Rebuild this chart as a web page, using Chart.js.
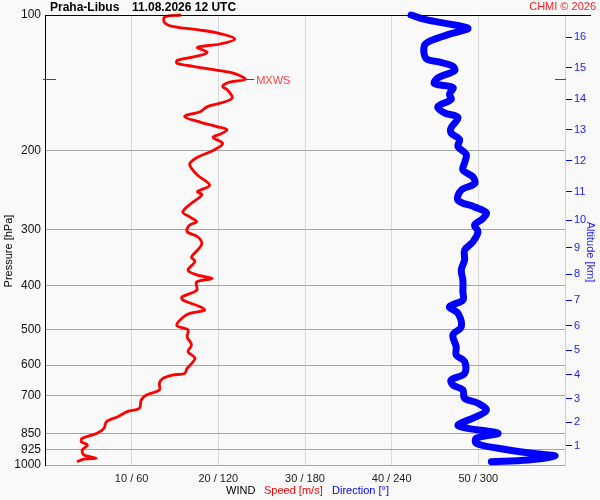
<!DOCTYPE html>
<html>
<head>
<meta charset="utf-8">
<script src="https://cdn.jsdelivr.net/npm/chart.js@4/dist/chart.umd.min.js"></script>
<style>
  body { margin: 0; background: #f9f9f9; }
  canvas { display: block; }
</style>
</head>
<body>
<canvas id="sondaChart" width="600" height="500"></canvas>
<script>
// rychlost vetru (m/s) podle tlaku (hPa)
const speedPressure = [100, 101, 104, 106, 108, 110, 113, 116, 118, 121, 123, 126, 128, 130, 133, 135, 139, 141, 144, 147,
    153, 157, 160, 164, 168, 173, 177, 180, 184, 187, 193, 200, 207, 214, 219, 227, 239, 247, 251, 262,
    274, 281, 288, 293, 303, 311, 322, 333, 345, 353, 369, 378, 385, 392, 409, 423, 430, 445, 453, 462,
    489, 501, 519, 541, 560, 579, 610, 626, 631, 642, 658, 681, 699, 717, 748, 761, 781, 801, 829, 850,
    872, 888, 903, 926, 950, 966, 970, 983];
const speedValues = [15.7, 13.8, 13.8, 14.7, 17.9, 20.2, 21.9, 20.2, 17.6, 18.7, 17.9, 15.3, 15.2, 17.1, 20.2, 21.9, 23.1, 21.3, 20.5, 21.1,
    21.6, 20.2, 18.7, 17.9, 16.1, 17.9, 19.8, 21.0, 20.2, 19.4, 20.5, 19.4, 17.6, 16.7, 16.9, 17.6, 19.0, 17.6, 18.1, 16.9,
    15.9, 16.7, 17.5, 16.7, 16.4, 17.6, 18.1, 17.6, 16.9, 17.3, 16.5, 17.5, 19.3, 17.5, 17.5, 15.8, 15.9, 17.9, 18.4, 16.5,
    15.2, 16.5, 16.4, 16.9, 16.5, 17.3, 16.4, 16.1, 14.7, 13.6, 13.2, 13.2, 11.7, 11.1, 10.9, 9.5, 8.4, 7.1, 6.8, 6.0,
    4.3, 4.2, 4.9, 4.3, 4.5, 5.9, 4.5, 3.7];

// smer vetru (stupne) podle tlaku (hPa)
const dirPressure = [100, 102, 104, 107, 110, 114, 117, 125, 127, 130, 133, 138, 142, 145, 150, 154, 160, 165, 169, 178,
    183, 189, 196, 204, 213, 221, 229, 237, 245, 258, 267, 275, 283, 293, 303, 319, 333, 350, 369, 388,
    412, 430, 445, 460, 493, 514, 546, 570, 589, 626, 647, 664, 681, 711, 729, 755, 781, 815, 829, 850,
    872, 895, 918, 942, 955, 975, 983];
const dirValues = [253.4, 261.5, 274.2, 292.8, 281.2, 267.3, 262.6, 263.8, 271.9, 282.4, 283.5, 271.9, 269.6, 282.4, 280.0, 281.2, 271.9, 276.5, 285.9, 281.2,
    281.2, 287.0, 285.9, 291.6, 290.5, 289.3, 296.3, 297.4, 288.2, 285.9, 297.4, 305.6, 303.3, 297.4, 299.8, 296.3, 290.5, 290.5, 288.2, 289.3,
    289.3, 289.3, 280.0, 285.9, 288.2, 282.4, 284.7, 284.7, 290.5, 290.5, 281.2, 282.4, 289.3, 290.5, 299.8, 305.6, 298.6, 285.9, 292.8, 313.7,
    298.6, 298.6, 313.7, 336.9, 353.1, 334.6, 309.0];

// osy
const pressureTicks = [100, 200, 300, 400, 500, 600, 700, 850, 925, 1000];
const speedTicks = [10, 20, 30, 40, 50];
const dirTicks = [60, 120, 180, 240, 300];
const altitudeKm = [1, 2, 3, 4, 5, 6, 7, 8, 9, 10, 11, 12, 13, 14, 15, 16];
const altitudePressure = [905, 803, 712, 630, 556, 490, 430, 377, 329, 286, 247, 211, 180, 154, 131, 112];

// maximalni vitr
const mxwsPressure = 139;
const mxwsSpeed = 23.1;

const FONT = '"Liberation Sans", Arial, sans-serif';

const popisky = {
    id: 'popisky',
    afterDraw(chart) {
        const ctx = chart.ctx;
        const y = chart.scales.y;
        const x = chart.scales.x;
        const area = chart.chartArea;
        ctx.save();

        // horni cara 100 hPa
        ctx.strokeStyle = '#000';
        ctx.lineWidth = 1;
        ctx.beginPath();
        ctx.moveTo(area.left, Math.round(y.getPixelForValue(100)) + 0.5);
        ctx.lineTo(591, Math.round(y.getPixelForValue(100)) + 0.5);
        ctx.stroke();

        // MXWS
        const my = Math.round(y.getPixelForValue(mxwsPressure)) + 0.5;
        const mx = x.getPixelForValue(mxwsSpeed);
        ctx.strokeStyle = '#ff0000';
        ctx.beginPath();
        ctx.moveTo(area.left - 2, my); ctx.lineTo(area.left + 11, my);
        ctx.moveTo(area.right - 10, my); ctx.lineTo(area.right + 1, my);
        ctx.moveTo(mx, my); ctx.lineTo(mx + 9, my);
        ctx.stroke();
        ctx.fillStyle = '#ff4040';
        ctx.font = '11px ' + FONT;
        ctx.textBaseline = 'middle';
        ctx.textAlign = 'left';
        ctx.fillText('MXWS', mx + 11, my + 1);

        // titulek
        ctx.fillStyle = '#000';
        ctx.font = 'bold 12px ' + FONT;
        ctx.fillText('Praha-Libus', 50, 8);
        ctx.fillText('11.08.2026 12 UTC', 132, 8);
        ctx.fillStyle = '#ff2020';
        ctx.font = '11px ' + FONT;
        ctx.textAlign = 'right';
        ctx.fillText('CHMI \u00a9 2026', 596, 7);

        // popis dole
        ctx.textAlign = 'left';
        ctx.font = '11px ' + FONT;
        ctx.fillStyle = '#000';
        ctx.fillText('WIND', 226, 491);
        ctx.fillStyle = '#ff0000';
        ctx.fillText('Speed [m/s]', 264, 491);
        ctx.fillStyle = '#0000ff';
        ctx.fillText('Direction [\u00b0]', 332, 491);

        // svisle popisy os
        ctx.textAlign = 'center';
        ctx.save();
        ctx.translate(9, 251);
        ctx.rotate(-Math.PI / 2);
        ctx.fillStyle = '#000';
        ctx.fillText('Pressure [hPa]', 0, 0);
        ctx.restore();
        ctx.save();
        ctx.translate(590, 252);
        ctx.rotate(Math.PI / 2);
        ctx.fillStyle = '#2020ff';
        ctx.fillText('Altitude [km]', 0, 0);
        ctx.restore();

        ctx.restore();
    }
};

const pozadi = {
    id: 'pozadi',
    beforeDraw(chart) {
        const ctx = chart.ctx;
        ctx.save();
        ctx.fillStyle = '#f9f9f9';
        ctx.fillRect(0, 0, chart.width, chart.height);
        ctx.restore();
    }
};

const ctx = document.getElementById('sondaChart').getContext('2d');
new Chart(ctx, {
    type: 'scatter',
    data: {
        datasets: [{
            label: 'Speed',
            data: speedPressure.map((p, i) => ({ x: speedValues[i], y: p })),
            xAxisID: 'x',
            yAxisID: 'y',
            showLine: true,
            borderColor: '#ff0000',
            borderWidth: 2.8,
            pointRadius: 0,
            tension: 0.35,
            clip: false
        }, {
            label: 'Direction',
            data: dirPressure.map((p, i) => ({ x: dirValues[i], y: p })),
            xAxisID: 'xd',
            yAxisID: 'y',
            showLine: true,
            borderColor: '#0000ff',
            borderWidth: 7,
            borderCapStyle: 'round',
            borderJoinStyle: 'round',
            pointRadius: 0,
            tension: 0.35,
            clip: false
        }]
    },
    options: {
        responsive: false,
        animation: false,
        devicePixelRatio: 1,
        layout: { padding: { top: 15, left: 0, right: 0, bottom: 0 } },
        plugins: {
            legend: { display: false },
            tooltip: { enabled: false }
        },
        scales: {
            x: {
                type: 'linear',
                position: 'bottom',
                min: 0,
                max: 60,
                afterBuildTicks: s => { s.ticks = speedTicks.map(v => ({ value: v })); },
                afterFit: s => { s.height = 35; },
                ticks: {
                    callback: (v, i) => v + ' / ' + dirTicks[i],
                    color: '#222',
                    font: { family: FONT, size: 11 },
                    padding: 7,
                    maxRotation: 0
                },
                grid: { color: '#d9d9d9', drawTicks: false },
                border: { display: false }
            },
            xd: {
                type: 'linear',
                min: 0,
                max: 360,
                display: false
            },
            y: {
                type: 'logarithmic',
                position: 'left',
                min: 100,
                max: 1000,
                reverse: true,
                afterBuildTicks: s => { s.ticks = pressureTicks.map(v => ({ value: v })); },
                afterFit: s => { s.width = 45; },
                ticks: {
                    callback: v => String(v),
                    color: '#111',
                    font: { family: FONT, size: 12 },
                    padding: 4
                },
                grid: {
                    color: c => (c.tick && c.tick.value === 100) ? 'rgba(0,0,0,0)' : '#a6a6a6',
                    drawTicks: false
                },
                border: { color: '#000', width: 1 }
            },
            yk: {
                type: 'logarithmic',
                position: 'right',
                min: 100,
                max: 1000,
                reverse: true,
                afterBuildTicks: s => { s.ticks = altitudePressure.map(v => ({ value: v })); },
                afterFit: s => { s.width = 35; },
                ticks: {
                    callback: (v, i) => String(altitudeKm[i]),
                    color: '#2020ff',
                    font: { family: FONT, size: 11 },
                    padding: 2
                },
                grid: { drawOnChartArea: false, color: '#0000ff', tickLength: 7 },
                border: { color: '#d0d0d0' }
            }
        }
    },
    plugins: [pozadi, popisky]
});
</script>
</body>
</html>
